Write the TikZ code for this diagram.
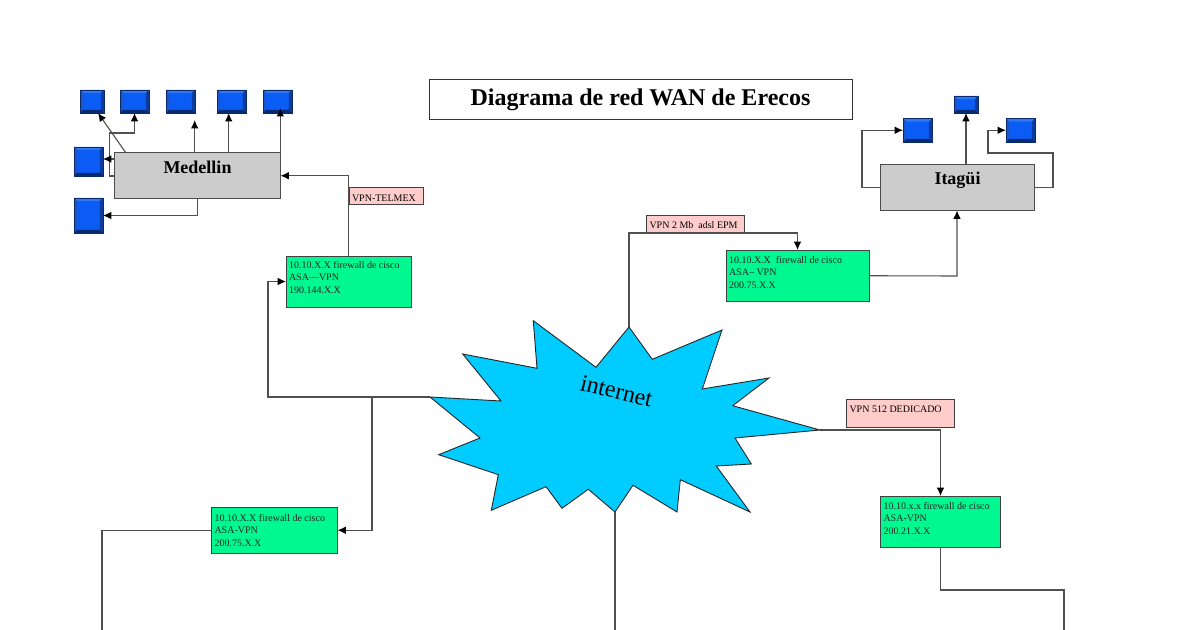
\documentclass[tikz,border=0pt]{standalone}
\usepackage{fontspec}
\setmainfont{Liberation Serif}
\usetikzlibrary{arrows.meta,calc}
\newdimen\pxu \pxu=0.5pt
% width, height, top gap, alignment and text of a box in picture pixels
\newcommand{\boxtxt}[5]{\parbox[c][#2\pxu][t]{#1\pxu}{\vspace*{#3\pxu}#4\strut #5\par}}
\definecolor{linegray}{HTML}{505050}
\definecolor{fwgreen}{HTML}{00F890}
\definecolor{pinkbox}{HTML}{FFCCCC}
\definecolor{burstblue}{HTML}{00CCFF}
\definecolor{sitegray}{HTML}{CCCCCC}
\definecolor{facebl}{HTML}{0A5CF5}
\definecolor{topbl}{HTML}{2F78F0}
\definecolor{leftbl}{HTML}{1C55C8}
\definecolor{rightbl}{HTML}{0F3C9A}
\definecolor{botbl}{HTML}{0A2A70}
\tikzset{
  base/.style={anchor=north west,inner sep=0pt,outer sep=0pt},
  link/.style={draw=linegray,line width=0.55pt},
  arrowlink/.style={link,-{Latex[length=4.2pt,width=3.8pt,color=black]}},
  fwbox/.style={base,draw=black!75,line width=0.45pt,fill=fwgreen,
    font=\fontsize{5pt}{6pt}\selectfont,text=black!85},
  vpnbox/.style={base,draw=black!75,line width=0.45pt,fill=pinkbox,
    font=\fontsize{5pt}{6pt}\selectfont},
  sitebox/.style={base,draw=black!70,line width=0.5pt,fill=sitegray,
    font=\fontsize{9pt}{10pt}\selectfont\bfseries},
  titlebox/.style={base,draw=black!80,line width=0.45pt,fill=white,
    font=\fontsize{12pt}{13pt}\selectfont\bfseries},
  pc/.style 2 args={base,minimum width=#1*0.5pt,minimum height=#2*0.5pt,
    fill=facebl,draw=botbl,line width=0.4pt,
    path picture={
      \coordinate (A) at (path picture bounding box.north west);
      \coordinate (B) at (path picture bounding box.north east);
      \coordinate (C) at (path picture bounding box.south east);
      \coordinate (D) at (path picture bounding box.south west);
      \fill[topbl] (A)--(B)--([xshift=-1.6pt,yshift=-1.6pt]B)--([xshift=1.6pt,yshift=-1.6pt]A)--cycle;
      \fill[leftbl] (A)--(D)--([xshift=1.6pt,yshift=1.6pt]D)--([xshift=1.6pt,yshift=-1.6pt]A)--cycle;
      \fill[rightbl] (B)--(C)--([xshift=-1.6pt,yshift=1.6pt]C)--([xshift=-1.6pt,yshift=-1.6pt]B)--cycle;
      \fill[botbl] (C)--(D)--([xshift=1.6pt,yshift=1.6pt]D)--([xshift=-1.6pt,yshift=1.6pt]C)--cycle;
    }},
  burst/.style={draw=black!85,line width=0.45pt,fill=burstblue,line join=miter},
  bursttext/.style={font=\fontsize{12pt}{14pt}\selectfont,inner sep=0pt,rotate=-13.5}
}
\begin{document}
\begin{tikzpicture}[x=0.5pt,y=-0.5pt]
\useasboundingbox (0,0) rectangle (1200,630);

% burst anchors
\coordinate (bW) at (430,397);
\coordinate (bN) at (629,327);
\coordinate (bE) at (820,430);
\coordinate (bS) at (615,512);
% free ends at the lower edge
\coordinate (endA) at (102,630);
\coordinate (endB) at (615,630);
\coordinate (endC) at (1064,630);

% title
\node[titlebox] (title) at (429,79) {\boxtxt{423}{40}{8}{\centering}{Diagrama de red WAN de Erecos}};

% Medellin
\node[sitebox] (med) at (114.5,153) {\boxtxt{166}{45.5}{7}{\centering}{Medellin}};
\node[pc={24}{23}] (m1) at (80,90) {};
\node[pc={29}{23}] (m2) at (120,90) {};
\node[pc={29}{23}] (m3) at (166,90) {};
\node[pc={29}{23}] (m4) at (217,90) {};
\node[pc={29}{23}] (m5) at (263,90) {};
\node[pc={29}{29}] (m6) at (74,147) {};
\node[pc={29}{35}] (m7) at (74,198) {};

\coordinate (m1tail) at (126,153);
\coordinate (m1tip) at (98,113);
\coordinate (m2tail) at (114.5,176);
\coordinate (m2a) at (109.5,176);
\coordinate (m2b) at (109.5,133);
\coordinate (m3tail) at (194.7,153);
\coordinate (m3tip) at (194.7,120);
\coordinate (m4tail) at (228.7,153);
\coordinate (m5tail) at (280.3,153);
\coordinate (m5tip) at (280.3,108);
\coordinate (m6tail) at (114.5,159);
\coordinate (m7tail) at (197.3,198.5);

\draw[arrowlink] (m1tail) -- (m1tip);
\draw[arrowlink] (m2tail) -- (m2a) -- (m2b) -| (m2.south);
\draw[arrowlink] (m3tail) -- (m3tip);
\draw[arrowlink] (m4tail) -- (m4tail |- m4.south);
\draw[arrowlink] (m5tail) -- (m5tip);
\draw[arrowlink] (m6tail) -- (m6.east |- m6tail);
\draw[arrowlink] (m7tail) |- (m7.east);

% Itagui
\node[sitebox] (ita) at (880.5,164.5) {\boxtxt{154}{46}{6}{\centering}{Itagüi}};
\node[pc={24}{17}] (i1) at (954,96) {};
\node[pc={29}{23.5}] (i2) at (903,118.5) {};
\node[pc={29}{23.5}] (i3) at (1006,118.5) {};
\coordinate (i3a) at (1053,187.5);
\coordinate (i3b) at (1053,153);
\coordinate (i3c) at (988,153);
\coordinate (i1tail) at (966,164.5);
\coordinate (i2a) at (862,187.5);
\draw[arrowlink] (i1tail) -- (i1.south);
\draw[arrowlink] (ita.west) -- (i2a) |- (i2.west);
\draw[arrowlink] (ita.east) -- (i3a) -- (i3b) -- (i3c) |- (i3.west);

% firewalls
\node[fwbox] (fw1) at (286,256) {\boxtxt{125.5}{51}{5}{\hspace*{3\pxu}}{\shortstack[l]{10.10.X.X firewall de cisco\\ASA---VPN\\190.144.X.X}}};
\node[fwbox] (fw2) at (726,250) {\boxtxt{143}{51.5}{6}{\hspace*{3\pxu}}{\shortstack[l]{10.10.X.X\ \ firewall de cisco\\ASA-- VPN\\200.75.X.X}}};
\node[fwbox] (fw3) at (211.5,507.5) {\boxtxt{126}{45.5}{6.5}{\hspace*{3\pxu}}{\shortstack[l]{10.10.X.X firewall de cisco\\ASA-VPN\\200.75.X.X}}};
\node[fwbox] (fw4) at (880.5,496) {\boxtxt{120}{51.5}{6}{\hspace*{3\pxu}}{\shortstack[l]{10.10.x.x firewall de cisco\\ASA-VPN\\200.21.X.X}}};

% vpn labels
\node[vpnbox] (v1) at (349,187.5) {\boxtxt{74.5}{17}{6}{\hspace*{3\pxu}}{VPN-TELMEX}};
\node[vpnbox] (v2) at (646,215.5) {\boxtxt{98}{18}{5}{\hspace*{3.5\pxu}}{VPN 2 Mb\ \ adsl EPM}};
\node[vpnbox] (v3) at (846,399) {\boxtxt{108.5}{28.5}{5}{\hspace*{3.5\pxu}}{VPN 512 DEDICADO}};

% routes
\coordinate (splitA) at (372,397);
\coordinate (westA) at (268,397);
\coordinate (n1) at (629,233);
\coordinate (fw2in) at (797.5,250);
\coordinate (e1) at (940.5,430);
\coordinate (s1) at (940.5,590);
\coordinate (fw2out) at (957,276);

\draw[arrowlink] (fw1.north) |- (med.east);
\draw[arrowlink] (bW) -- (westA) |- (fw1.west);
\draw[arrowlink] (splitA) |- (fw3.east);
\draw[link] (fw3.west) -| (endA);
\draw[arrowlink] (bN) -- (n1) -| (fw2in);
\draw[arrowlink] (fw2.east) -- (fw2out) -- (fw2out |- ita.south);
\draw[arrowlink] (bE) -- (e1) -- (fw4.north);
\draw[link] (fw4.south) -- (s1) -| (endC);
\draw[link] (bS) -- (endB);

% internet burst
\draw[burst] (bW) -- (501,401) -- (462.7,354) -- (537,368.3) -- (533.3,320.7)
  -- (596,367.3) -- (bN) -- (652.3,359.3) -- (722,330) -- (702.3,389)
  -- (769,378) -- (732.7,405.7) -- (bE) -- (735,438) -- (751.3,464)
  -- (716.3,466) -- (750,512) -- (680.3,479.7) -- (677,512) -- (633,485.3)
  -- (bS) -- (588.3,489.3) -- (562,508.3) -- (546,486.7) -- (491.3,510.3)
  -- (498.3,474.7) -- (438.7,454.7) -- (480,438) -- cycle;
\node[bursttext] (net) at (616.5,391) {internet};
\end{tikzpicture}
\end{document}
